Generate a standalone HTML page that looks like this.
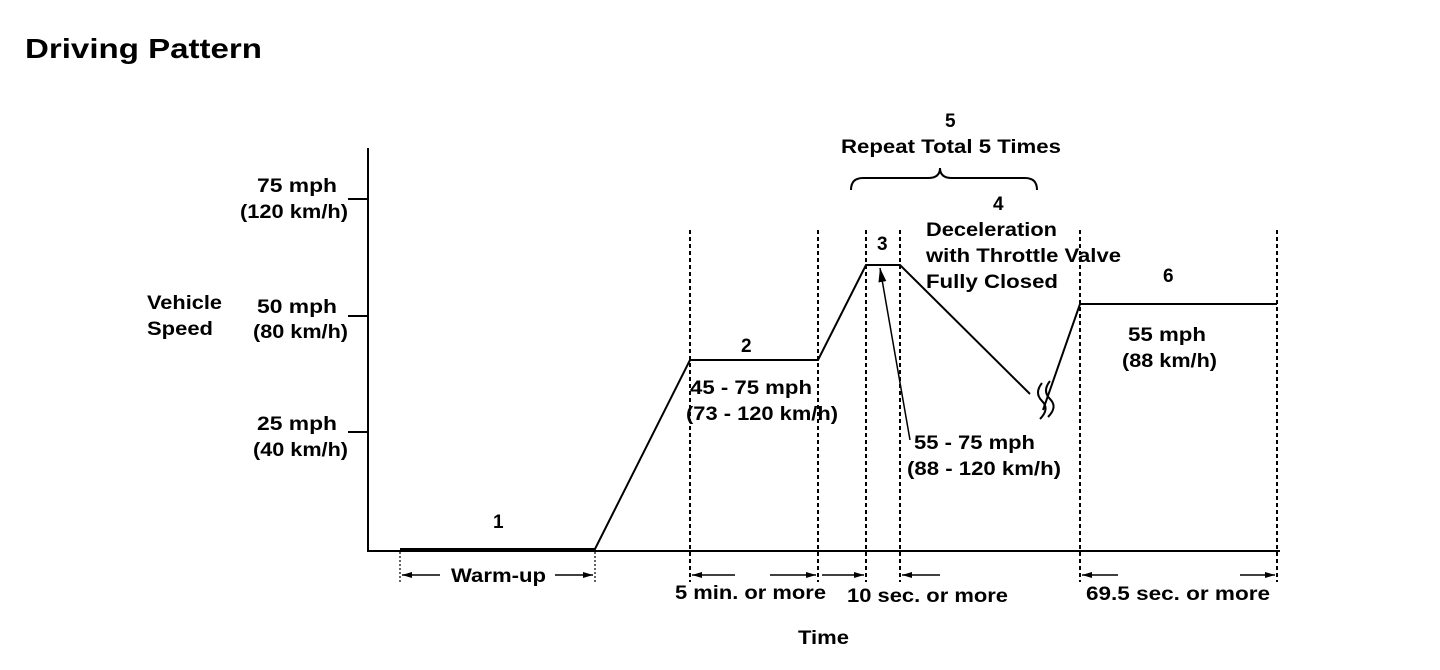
<!DOCTYPE html>
<html><head><style>body{margin:0;background:#fff}svg{display:block}text{font-family:"Liberation Sans",Arial,sans-serif;font-weight:bold;fill:#000}</style></head><body>
<svg width="1440" height="670" viewBox="0 0 1440 670">
<defs><marker id="a" markerWidth="10" markerHeight="6" refX="10" refY="3" orient="auto" markerUnits="userSpaceOnUse"><path d="M0,0 L10,3 L0,6z"/></marker>
<marker id="b" markerWidth="14" markerHeight="8" refX="14" refY="4" orient="auto" markerUnits="userSpaceOnUse"><path d="M0,0 L14,4 L0,8z"/></marker></defs>
<text x="25" y="58" font-size="28" textLength="237" lengthAdjust="spacingAndGlyphs">Driving Pattern</text>
<g stroke="#000" stroke-width="2" fill="none">
<path d="M368,148 V551 H1280"/>
<path d="M348,199H368M348,316H368M348,432H368"/>
<path d="M400,549 H595 L690,360 H818 L866,265 H900 L1030,394"/>
<path d="M1043,410 L1080,304 H1277"/>
<path d="M1042,383 q-8,10 0,18 q8,8 -2,18 M1050,381 q-8,10 0,18 q8,8 -2,18"/>
<path d="M851,190 q0,-12 12,-12 h65 q12,0 12,-10 q0,10 12,10 h73 q12,0 12,12"/>
</g>
<g stroke="#000" stroke-width="2" stroke-dasharray="4,3">
<path d="M690,230V582M818,230V582M866,230V582M900,230V582M1080,230V582M1277,230V582"/>
</g>
<g stroke="#000" stroke-width="1.2" stroke-dasharray="2,2"><path d="M400,552V582M595,552V582"/></g>
<g stroke="#000" stroke-width="1.5" fill="none">
<path d="M440,575H402" marker-end="url(#a)"/><path d="M555,575H593" marker-end="url(#a)"/>
<path d="M735,575H692" marker-end="url(#a)"/><path d="M770,575H816" marker-end="url(#a)"/>
<path d="M822,575H864" marker-end="url(#a)"/><path d="M940,575H902" marker-end="url(#a)"/>
<path d="M1118,575H1082" marker-end="url(#a)"/><path d="M1240,575H1275" marker-end="url(#a)"/>
<path d="M910,440L880,268" marker-end="url(#b)"/>
</g>
<g font-size="19" lengthAdjust="spacingAndGlyphs">
<text x="257" y="192" textLength="80" lengthAdjust="spacingAndGlyphs">75 mph</text><text x="240" y="218" textLength="108" lengthAdjust="spacingAndGlyphs">(120 km/h)</text>
<text x="257" y="313" textLength="80" lengthAdjust="spacingAndGlyphs">50 mph</text><text x="253" y="338" textLength="95" lengthAdjust="spacingAndGlyphs">(80 km/h)</text>
<text x="257" y="430" textLength="80" lengthAdjust="spacingAndGlyphs">25 mph</text><text x="253" y="456" textLength="95" lengthAdjust="spacingAndGlyphs">(40 km/h)</text>
<text x="147" y="309" textLength="75" lengthAdjust="spacingAndGlyphs">Vehicle</text><text x="147" y="335" textLength="66" lengthAdjust="spacingAndGlyphs">Speed</text>
<text x="493" y="528">1</text><text x="451" y="582" textLength="95" lengthAdjust="spacingAndGlyphs">Warm-up</text>
<text x="741" y="352">2</text>
<text x="690" y="394" textLength="122" lengthAdjust="spacingAndGlyphs">45 - 75 mph</text><text x="686" y="420" textLength="152" lengthAdjust="spacingAndGlyphs">(73 - 120 km/h)</text>
<text x="877" y="250">3</text>
<text x="945" y="127">5</text><text x="841" y="153" textLength="220" lengthAdjust="spacingAndGlyphs">Repeat Total 5 Times</text>
<text x="993" y="210">4</text>
<text x="926" y="236" textLength="131" lengthAdjust="spacingAndGlyphs">Deceleration</text><text x="926" y="262" textLength="195" lengthAdjust="spacingAndGlyphs">with Throttle Valve</text><text x="926" y="288" textLength="132" lengthAdjust="spacingAndGlyphs">Fully Closed</text>
<text x="1163" y="282">6</text>
<text x="1128" y="341" textLength="78" lengthAdjust="spacingAndGlyphs">55 mph</text><text x="1122" y="367" textLength="95" lengthAdjust="spacingAndGlyphs">(88 km/h)</text>
<text x="914" y="449" textLength="121" lengthAdjust="spacingAndGlyphs">55 - 75 mph</text><text x="907" y="475" textLength="154" lengthAdjust="spacingAndGlyphs">(88 - 120 km/h)</text>
<text x="675" y="599" textLength="151" lengthAdjust="spacingAndGlyphs">5 min. or more</text><text x="847" y="602" textLength="161" lengthAdjust="spacingAndGlyphs">10 sec. or more</text>
<text x="1086" y="600" textLength="184" lengthAdjust="spacingAndGlyphs">69.5 sec. or more</text>
<text x="798" y="644" textLength="51" lengthAdjust="spacingAndGlyphs">Time</text>
</g>
</svg></body></html>
